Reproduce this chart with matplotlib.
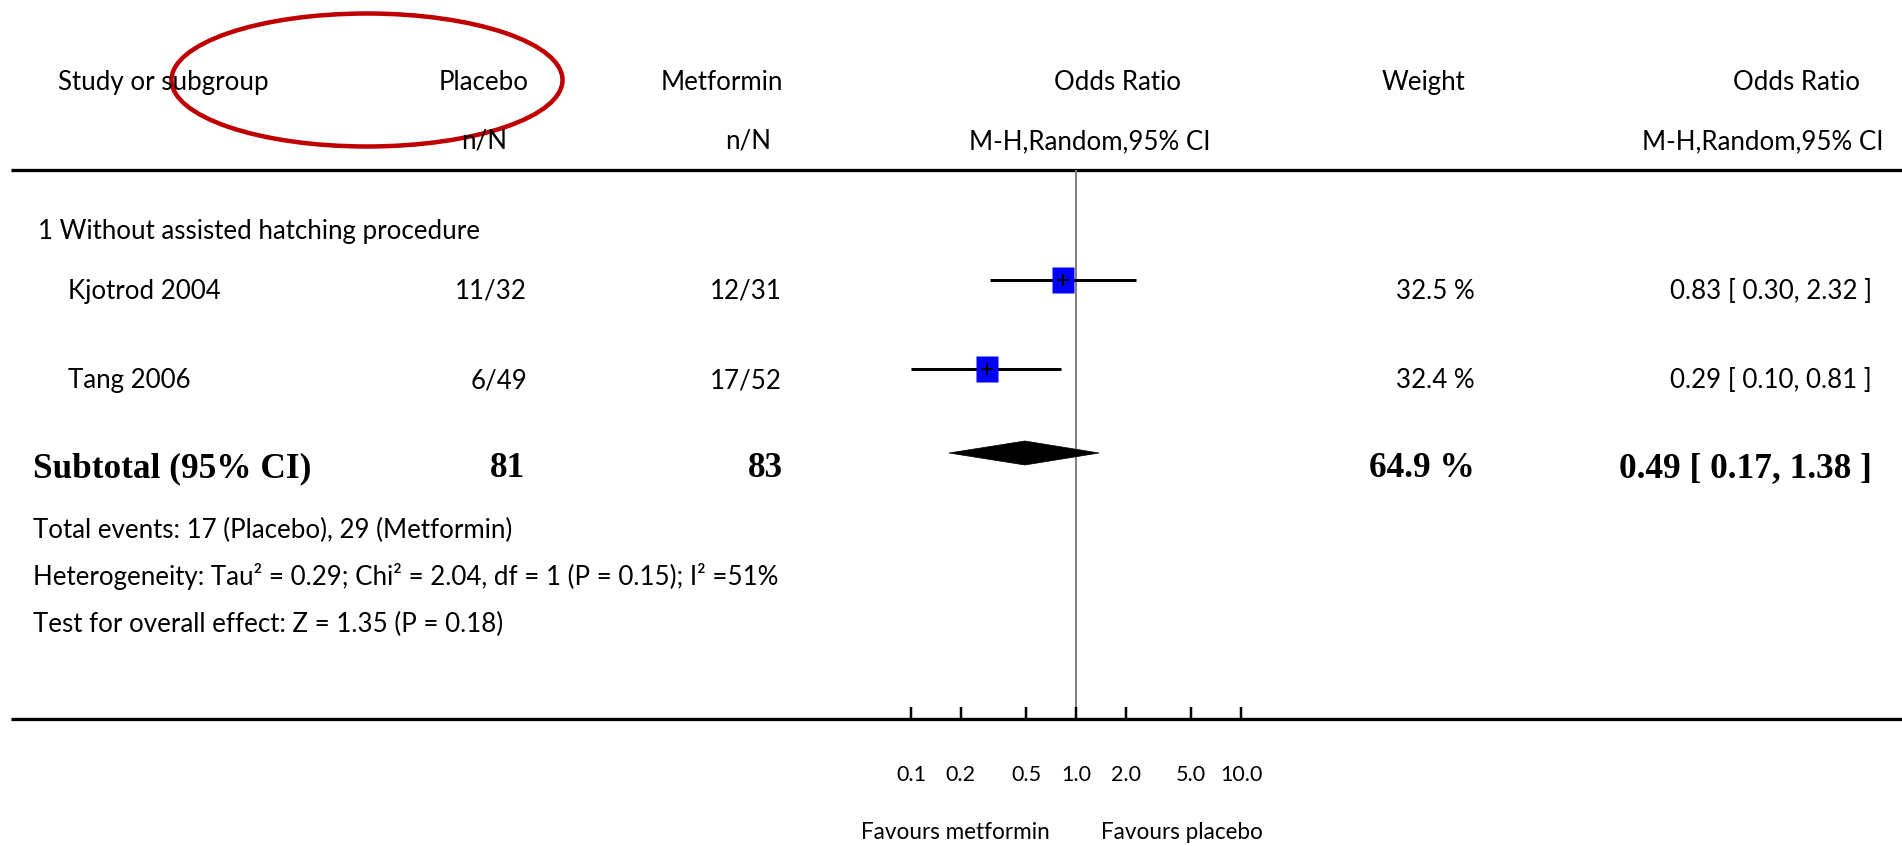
import matplotlib
matplotlib.use("Agg")
import matplotlib.pyplot as plt
from matplotlib.font_manager import FontProperties
from matplotlib.patches import Ellipse, Polygon
from matplotlib.textpath import TextPath
from matplotlib.ticker import NullLocator

# ---- data -------------------------------------------------------------
studies = ["Kjotrod 2004", "Tang 2006"]
placebo_events = [11, 6]
placebo_total = [32, 49]
metformin_events = [12, 17]
metformin_total = [31, 52]
odds_ratio = [0.83, 0.29]
ci_low = [0.30, 0.10]
ci_high = [2.32, 0.81]
weight = [32.5, 32.4]

subgroup_label = "1 Without assisted hatching procedure"
subtotal_or = 0.49
subtotal_low = 0.17
subtotal_high = 1.38
subtotal_weight = 64.9

footer_lines = [
    "Total events: 17 (Placebo), 29 (Metformin)",
    "Heterogeneity: Tau\u00b2 = 0.29; Chi\u00b2 = 2.04, df = 1 (P = 0.15); I\u00b2 =51%",
    "Test for overall effect: Z = 1.35 (P = 0.18)",
]
axis_ticks = [0.1, 0.2, 0.5, 1.0, 2.0, 5.0, 10.0]
axis_tick_labels = ["0.1", "0.2", "0.5", "1.0", "2.0", "5.0", "10.0"]
favours_left = "Favours metformin"
favours_right = "Favours placebo"

# ---- layout (pixels) ---------------------------------------------------
W, H, DPI = 1902, 846, 100
SANS = "Lato"
SERIF = "Liberation Serif"
PX = 72 / DPI  # points per pixel

TOP_LINE, BOTTOM_LINE = 170, 719
NULL_PX, DECADE_PX = 1076, 165
FOREST_L, FOREST_R = 895, 1257
ROW0, ROW_STEP, SUBTOTAL_Y = 280, 89, 453


def fit_size(text, target_px, family, weight="normal"):
    prop = FontProperties(family=family, weight=weight)
    width = TextPath((0, 0), text, size=100, prop=prop).get_extents().width
    return target_px * 72 / width * 100 / DPI


body_fs = fit_size("Study or subgroup", 208, SANS)
bold_fs = fit_size("Subtotal (95% CI)", 275, SERIF, "bold")
tick_fs = fit_size("10.0", 40, SANS)
favours_fs = fit_size("Favours metformin", 185, SANS)


def make_axes():
    fig = plt.figure(figsize=(W / DPI, H / DPI), dpi=DPI)
    fig.patch.set_facecolor("white")

    ax_bg = fig.add_axes([0, 0, 1, 1])
    ax_bg.set_xlim(0, W)
    ax_bg.set_ylim(H, 0)
    ax_bg.axis("off")

    ax = fig.add_axes([
        FOREST_L / W, 1 - BOTTOM_LINE / H,
        (FOREST_R - FOREST_L) / W, (BOTTOM_LINE - TOP_LINE) / H,
    ])
    ax.set_xscale("log")
    ax.set_xlim(10 ** ((FOREST_L - NULL_PX) / DECADE_PX),
                10 ** ((FOREST_R - NULL_PX) / DECADE_PX))
    ax.set_ylim(BOTTOM_LINE, TOP_LINE)
    ax.patch.set_visible(False)
    for s in ax.spines.values():
        s.set_visible(False)
    return fig, ax_bg, ax


def add_table(ax_bg):
    txt = dict(fontsize=body_fs, family=SANS, color="k", va="baseline")
    bold = dict(fontsize=bold_fs, family=SERIF, weight="bold", color="k",
                va="baseline")

    # header
    ax_bg.text(58, 90, "Study or subgroup", ha="left", **txt)
    ax_bg.text(529, 90, "Placebo", ha="right", **txt)
    ax_bg.text(507, 149, "n/N", ha="right", **txt)
    ax_bg.text(783, 90, "Metformin", ha="right", **txt)
    ax_bg.text(771, 149, "n/N", ha="right", **txt)
    ax_bg.text(1117, 90, "Odds Ratio", ha="center", **txt)
    ax_bg.text(1090, 149, "M-H,Random,95% CI", ha="center", **txt)
    ax_bg.text(1382, 90, "Weight", ha="left", **txt)
    ax_bg.text(1860, 90, "Odds Ratio", ha="right", **txt)
    ax_bg.text(1884, 149, "M-H,Random,95% CI", ha="right", **txt)

    ax_bg.hlines([TOP_LINE, BOTTOM_LINE], 11, W, color="k", lw=3.3 * PX)

    ax_bg.text(38, 239, subgroup_label, ha="left", **txt)

    for i, name in enumerate(studies):
        y = ROW0 + i * ROW_STEP + 19
        ax_bg.text(68, y, name, ha="left", **txt)
        ax_bg.text(527, y, f"{placebo_events[i]}/{placebo_total[i]}",
                   ha="right", **txt)
        ax_bg.text(782, y, f"{metformin_events[i]}/{metformin_total[i]}",
                   ha="right", **txt)
        ax_bg.text(1475, y, f"{weight[i]:.1f} %", ha="right", **txt)
        ax_bg.text(1872, y,
                   f"{odds_ratio[i]:.2f} [ {ci_low[i]:.2f}, {ci_high[i]:.2f} ]",
                   ha="right", **txt)

    y = SUBTOTAL_Y + 24
    ax_bg.text(33, y, "Subtotal (95% CI)", ha="left", **bold)
    ax_bg.text(525, y, f"{sum(placebo_total)}", ha="right", **bold)
    ax_bg.text(783, y, f"{sum(metformin_total)}", ha="right", **bold)
    ax_bg.text(1475, y, f"{subtotal_weight:.1f} %", ha="right", **bold)
    ax_bg.text(1872, y,
               f"{subtotal_or:.2f} [ {subtotal_low:.2f}, {subtotal_high:.2f} ]",
               ha="right", **bold)

    for i, line in enumerate(footer_lines):
        ax_bg.text(33, 538 + i * 47, line, ha="left", **txt)

    fav = dict(txt, fontsize=favours_fs)
    ax_bg.text(1050, 839, favours_left, ha="right", **fav)
    ax_bg.text(1101, 839, favours_right, ha="left", **fav)

    # red annotation ring around the placebo header
    ax_bg.add_patch(Ellipse((367, 80), 391, 133, fill=False,
                            edgecolor="#C00000", lw=4.5 * PX))


def add_forest(ax):
    ax.axvline(1.0, color="#808080", lw=2 * PX, zorder=1)

    ys = [ROW0 + i * ROW_STEP for i in range(len(studies))]
    ax.hlines(ys, ci_low, ci_high, color="k", lw=3 * PX, zorder=2)
    box = [(-0.4, -0.5), (0.4, -0.5), (0.4, 0.5), (-0.4, 0.5), (-0.4, -0.5)]
    ax.plot(odds_ratio, ys, ls="none", marker=box, ms=27 * PX,
            mfc="#0000FF", mec="none", zorder=3)
    ax.plot(odds_ratio, ys, ls="none", marker="+", ms=12 * PX,
            mec="k", mew=2 * PX, zorder=4)

    h = 12
    ax.add_patch(Polygon(
        [(subtotal_low, SUBTOTAL_Y), (subtotal_or, SUBTOTAL_Y - h),
         (subtotal_high, SUBTOTAL_Y), (subtotal_or, SUBTOTAL_Y + h)],
        closed=True, facecolor="k", edgecolor="k", lw=0.5, zorder=3))

    ax.set_yticks([])
    ax.set_xticks(axis_ticks)
    ax.xaxis.set_minor_locator(NullLocator())
    ax.tick_params(axis="x", which="major", direction="in", length=12 * PX,
                   width=2.5 * PX, labelbottom=False, color="k")
    for t, lab in zip(axis_ticks, axis_tick_labels):
        ax.text(t, 781, lab, ha="center", va="baseline", fontsize=tick_fs,
                family=SANS, color="k", clip_on=False)


def main():
    fig, ax_bg, ax = make_axes()
    add_table(ax_bg)
    add_forest(ax)
    fig.savefig("out.png", dpi=DPI)


if __name__ == "__main__":
    main()
